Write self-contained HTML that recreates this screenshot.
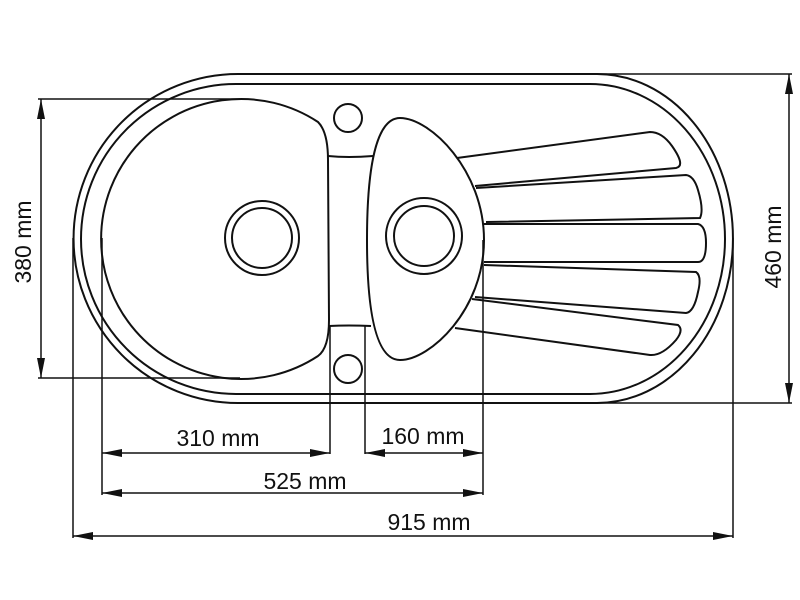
<!DOCTYPE html>
<html><head><meta charset="utf-8"><style>
html,body{margin:0;padding:0;background:#fff}
svg{display:block}
text{font-family:"Liberation Sans",Arial,sans-serif;font-size:23px;fill:#111}
</style></head><body>
<svg width="800" height="600" viewBox="0 0 800 600" xmlns="http://www.w3.org/2000/svg">
<defs>
<marker id="a" viewBox="0 0 20 8" refX="20" refY="4" markerWidth="20" markerHeight="8" markerUnits="userSpaceOnUse" orient="auto-start-reverse">
<path d="M0,0 L20,4 L0,8 Z" fill="#111"/></marker>
</defs>
<g fill="none" stroke="#111" stroke-width="2">
<path d="M238,74 L597,74 A136,164.5 0 0 1 597,403 L238,403 A164.5,164.5 0 0 1 238,74 Z"/>
<path d="M236,84 L590,84 A135,155 0 0 1 590,394 L236,394 A155,155 0 0 1 236,84 Z"/>
<path d="M318,122 Q328,132 328,160 L329,320 Q329,348 318,356 A140,140 0 1 1 318,122 Z"/>
<circle cx="262" cy="238" r="37"/>
<circle cx="262" cy="238" r="30"/>
<circle cx="348" cy="118" r="14"/>
<circle cx="348" cy="369" r="14"/>
<path d="M328,156 Q348,158 373,156"/>
<path d="M329,326 Q348,325 371,326"/>
<path d="M400,118 C378,118 367,160 367,240 C367,320 378,360 400,360 C430,360 484,310 484,240 C484,170 430,118 400,118 Z"/>
<circle cx="424" cy="236" r="38"/>
<circle cx="424" cy="236" r="30"/>
<path d="M457,158 L650,132 Q662,132 672,146 Q686,166 676,168 L475,186"/>
<path d="M476,188 L686,175 Q694,176 698,190 Q704,210 700,218 L486,222"/>
<path d="M484,224 L698,224 Q706,226 706,243 Q706,262 698,262 L484,262"/>
<path d="M484,265 L696,272 Q702,276 698,292 Q694,312 686,313 L475,297"/>
<path d="M472,299 L678,325 Q684,330 676,340 Q662,356 650,355 L455,328"/>
</g>
<g fill="none" stroke="#111" stroke-width="1.5">
<line x1="38" y1="99" x2="240" y2="99"/>
<line x1="38" y1="378" x2="240" y2="378"/>
<line x1="597" y1="74" x2="792" y2="74"/>
<line x1="597" y1="403" x2="792" y2="403"/>
<line x1="73" y1="238" x2="73" y2="538"/>
<line x1="733" y1="238" x2="733" y2="538"/>
<line x1="102" y1="238" x2="102" y2="495"/>
<line x1="330" y1="326" x2="330" y2="454"/>
<line x1="365" y1="326" x2="365" y2="454"/>
<line x1="483" y1="240" x2="483" y2="495"/>
<line x1="41" y1="99" x2="41" y2="378" marker-start="url(#a)" marker-end="url(#a)"/>
<line x1="789" y1="74" x2="789" y2="403" marker-start="url(#a)" marker-end="url(#a)"/>
<line x1="102" y1="453" x2="330" y2="453" marker-start="url(#a)" marker-end="url(#a)"/>
<line x1="365" y1="453" x2="483" y2="453" marker-start="url(#a)" marker-end="url(#a)"/>
<line x1="102" y1="493" x2="483" y2="493" marker-start="url(#a)" marker-end="url(#a)"/>
<line x1="73" y1="536" x2="733" y2="536" marker-start="url(#a)" marker-end="url(#a)"/>
</g>
<text x="218" y="446" text-anchor="middle">310 mm</text>
<text x="423" y="444" text-anchor="middle">160 mm</text>
<text x="305" y="489" text-anchor="middle">525 mm</text>
<text x="429" y="530" text-anchor="middle">915 mm</text>
<text transform="translate(31,242) rotate(-90)" text-anchor="middle">380 mm</text>
<text transform="translate(781,247) rotate(-90)" text-anchor="middle">460 mm</text>
</svg>
</body></html>
